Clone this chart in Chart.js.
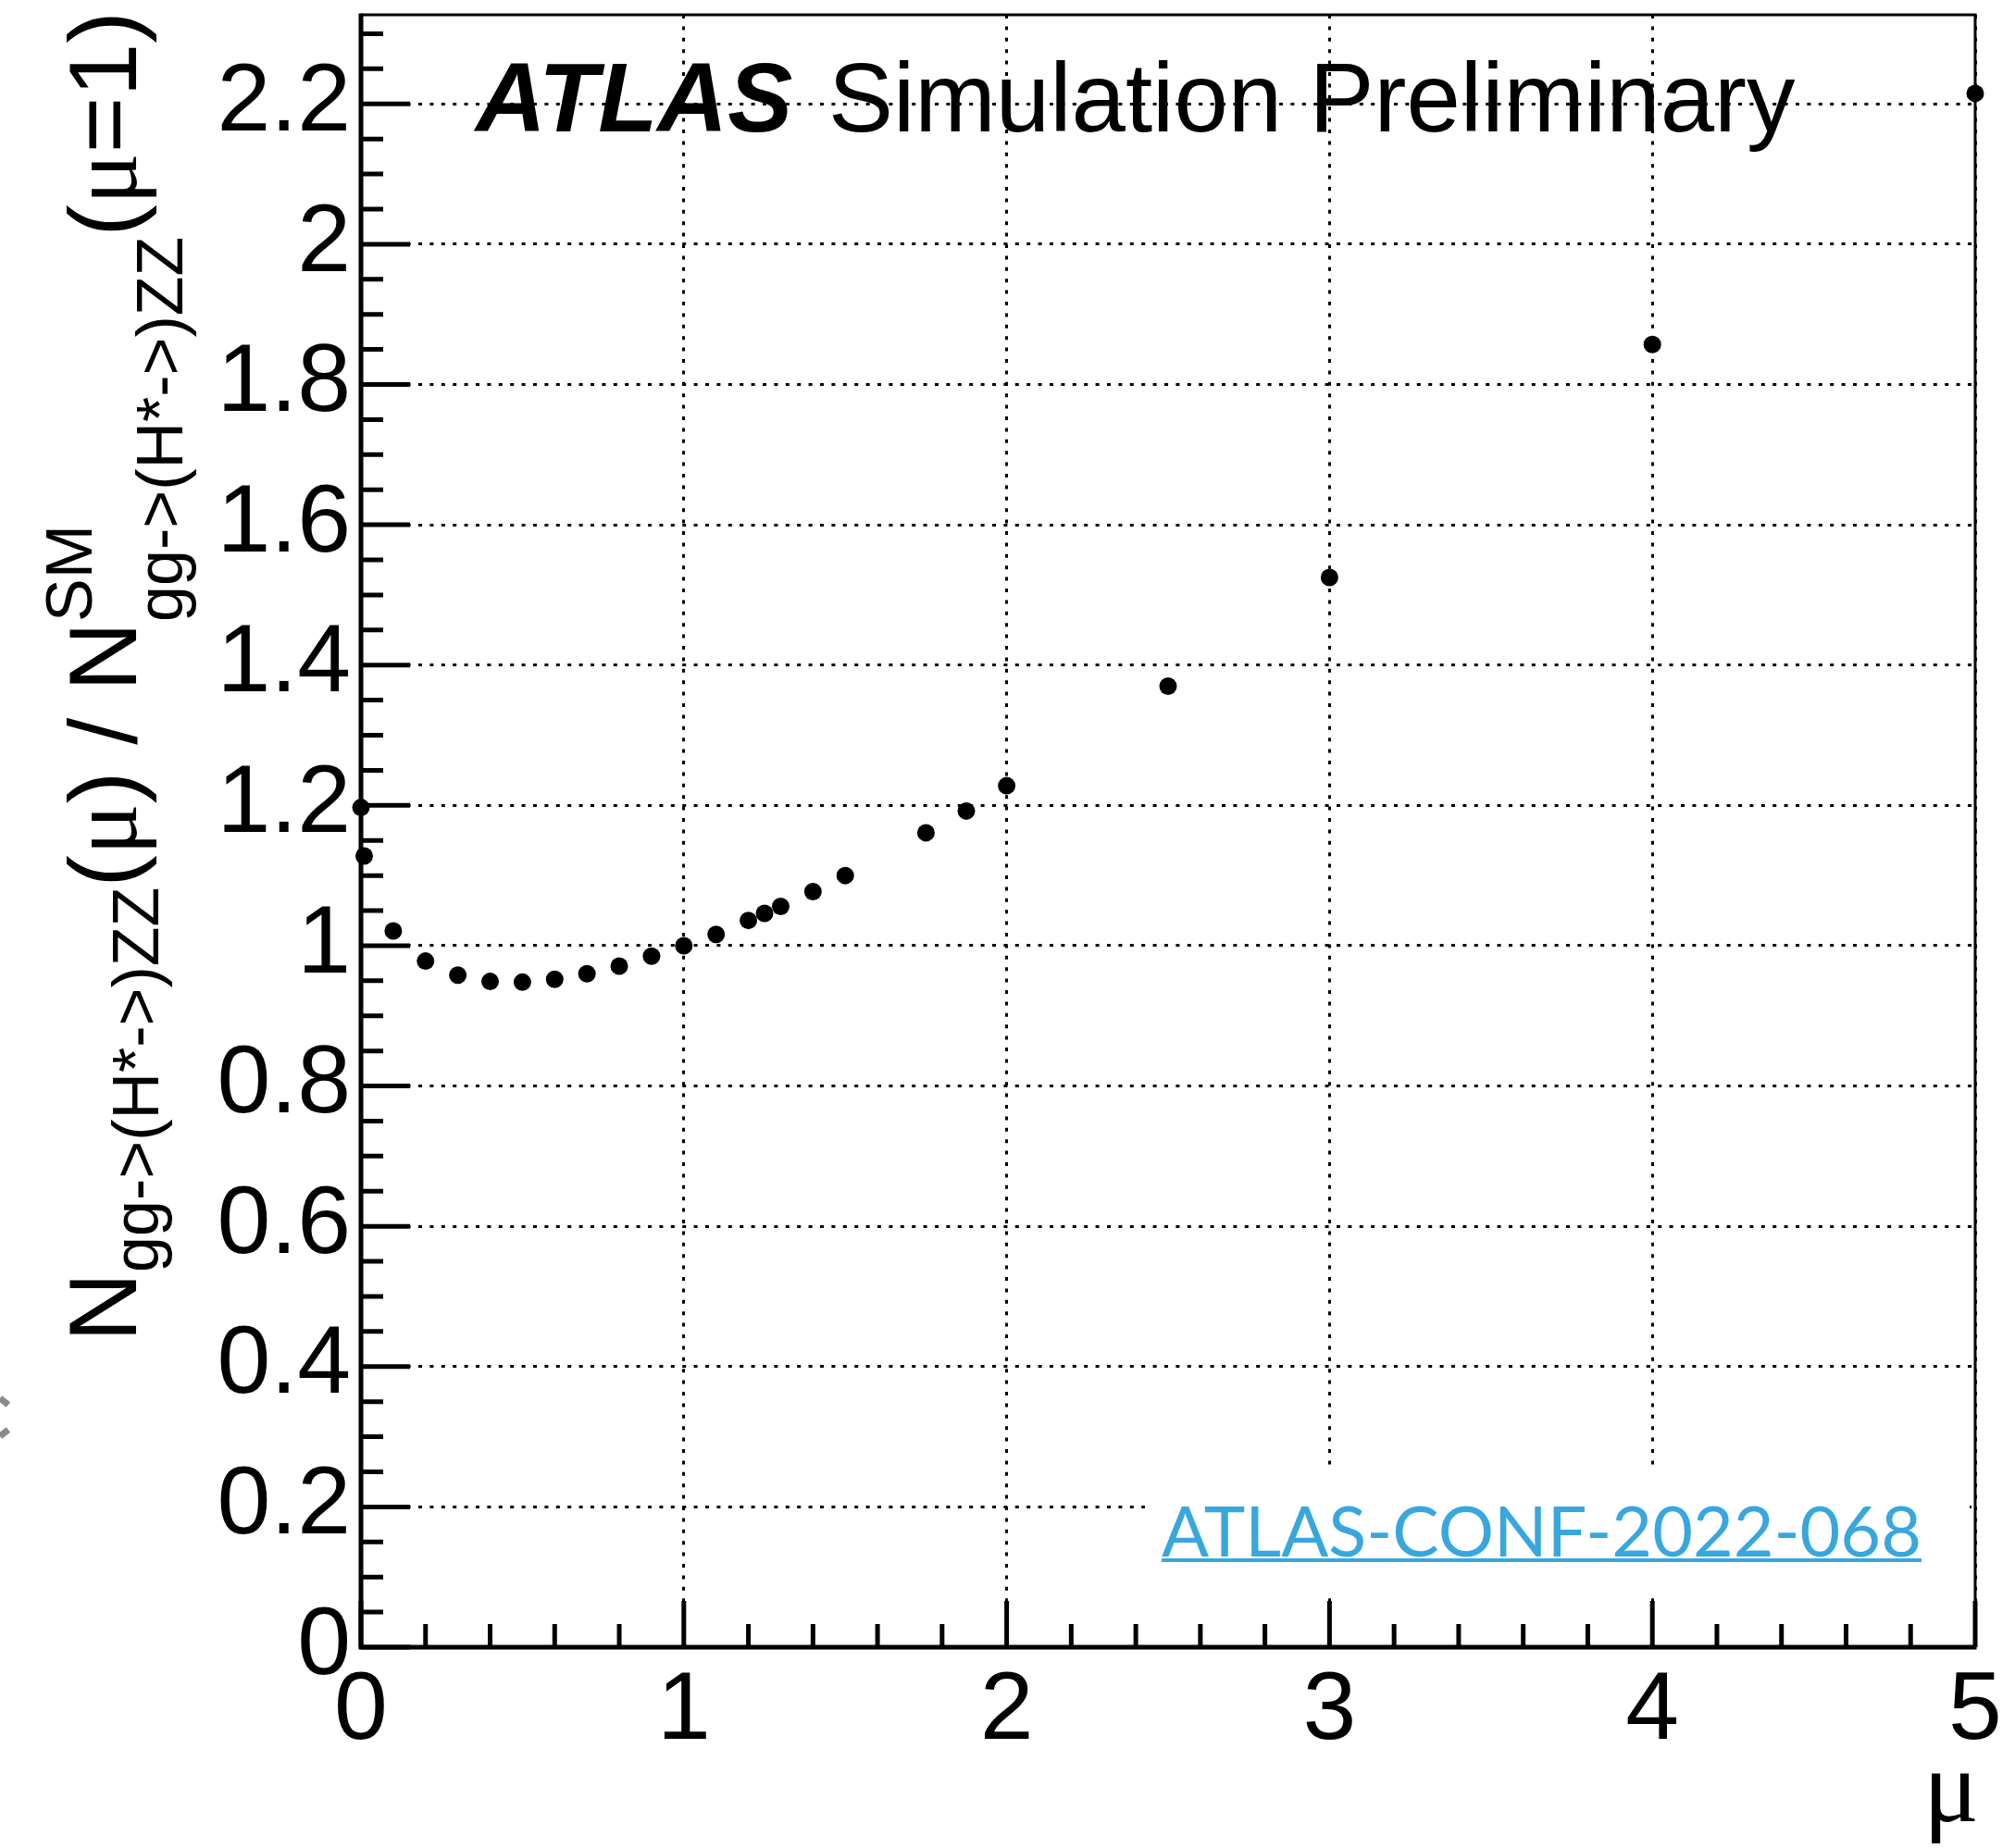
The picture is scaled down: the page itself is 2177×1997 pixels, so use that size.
<!DOCTYPE html>
<html>
<head>
<meta charset="utf-8">
<script src="https://cdn.jsdelivr.net/npm/chart.js@4.4.1/dist/chart.umd.min.js"></script>
<style>
  html, body { margin: 0; padding: 0; background: #fff; }
  #wrap { width: 2177px; height: 1997px; position: relative; }
</style>
</head>
<body>
<div id="wrap"><canvas id="ratio" width="2177" height="1997"></canvas></div>
<script>
// gg->(H*->)ZZ yield ratio vs signal strength
const muValues = [0, 0.01, 0.1, 0.2, 0.3, 0.4, 0.5, 0.6, 0.7, 0.8, 0.9, 1.0,
                  1.1, 1.2, 1.25, 1.3, 1.4, 1.5, 1.75, 1.875, 2.0, 2.5, 3, 4, 5];
const ratioValues = [1.197, 1.128, 1.021, 0.978, 0.958, 0.949, 0.948, 0.952, 0.960, 0.971, 0.985, 1.000,
                     1.016, 1.036, 1.046, 1.056, 1.077, 1.100, 1.161, 1.192, 1.228, 1.370, 1.525, 1.857, 2.215];

const xTicks = [0, 1, 2, 3, 4, 5];
const xTickLabels = ['0', '1', '2', '3', '4', '5'];
const yTicks = [0, 0.2, 0.4, 0.6, 0.8, 1.0, 1.2, 1.4, 1.6, 1.8, 2.0, 2.2];
const yTickLabels = ['0', '0.2', '0.4', '0.6', '0.8', '1', '1.2', '1.4', '1.6', '1.8', '2', '2.2'];
const xMinorStep = 0.2;
const yMinorStep = 0.05;

const SANS = '"Liberation Sans", Arial, sans-serif';
const SERIF = '"Liberation Serif", "Times New Roman", serif';

// text pieces along a shared baseline; "stack" puts a super- and subscript on top of each other
function drawRichText(ctx, pieces) {
    let x = 0;
    pieces.forEach(p => {
        if (p.stack) {
            let w = 0;
            p.stack.forEach(s => {
                ctx.font = s.font;
                ctx.fillText(s.text, x, s.dy || 0);
                w = Math.max(w, ctx.measureText(s.text).width);
            });
            x += w;
        } else {
            ctx.font = p.font;
            ctx.fillText(p.text, x, p.dy || 0);
            x += ctx.measureText(p.text).width;
        }
    });
}

const MAIN = '104px ' + SANS;
const MU = '104px ' + SERIF;
const SUB = '70px ' + SANS;

const yTitle = [
    { text: 'N', font: MAIN },
    { text: 'gg->(H*->)ZZ', font: SUB, dy: 24 },
    { text: '(', font: MAIN },
    { text: 'μ', font: MU },
    { text: ') / ', font: MAIN },
    { text: 'N', font: MAIN },
    { stack: [
        { text: 'SM', font: SUB, dy: -48 },
        { text: 'gg->(H*->)ZZ', font: SUB, dy: 50 }
    ] },
    { text: '(', font: MAIN },
    { text: 'μ', font: MU },
    { text: '=1)', font: MAIN }
];

// frame, inward ticks and the overlaid labels
const framePlugin = {
    id: 'frame',
    beforeDatasetsDraw(chart) {
        const { ctx, chartArea: a } = chart;
        // blank band behind the conference note
        ctx.save();
        ctx.fillStyle = '#fff';
        ctx.fillRect(a.left + 847, a.top + 1571, 891, 139);
        ctx.restore();
    },
    afterDatasetsDraw(chart) {
        const { ctx, chartArea: a, scales: { x, y } } = chart;
        ctx.save();
        ctx.strokeStyle = '#000';
        ctx.lineCap = 'butt';

        // top and right frame
        ctx.lineWidth = 3;
        ctx.beginPath();
        ctx.moveTo(a.left, a.top);
        ctx.lineTo(a.right, a.top);
        ctx.lineTo(a.right, a.bottom);
        ctx.stroke();

        // ticks
        ctx.lineWidth = 5;
        ctx.beginPath();
        for (let v = 0; v <= x.max + 1e-9; v += xMinorStep) {
            const px = x.getPixelForValue(v);
            const major = xTicks.some(t => Math.abs(t - v) < 1e-6);
            ctx.moveTo(px, a.bottom);
            ctx.lineTo(px, a.bottom - (major ? 50 : 25));
        }
        for (let v = 0; v <= y.max + 1e-9; v += yMinorStep) {
            const py = y.getPixelForValue(v);
            const major = yTicks.some(t => Math.abs(t - v) < 1e-6);
            ctx.moveTo(a.left, py);
            ctx.lineTo(a.left + (major ? 53 : 24), py);
        }
        ctx.stroke();

        // left and bottom axes
        ctx.lineWidth = 5;
        ctx.beginPath();
        ctx.moveTo(a.left, a.top - 1.5);
        ctx.lineTo(a.left, a.bottom);
        ctx.lineTo(a.right + 1.5, a.bottom);
        ctx.stroke();

        // header
        ctx.fillStyle = '#000';
        ctx.textBaseline = 'alphabetic';
        ctx.textAlign = 'left';
        ctx.font = 'italic bold 105px ' + SANS;
        ctx.fillText('ATLAS', a.left + 124, a.top + 126);
        ctx.font = '105px ' + SANS;
        ctx.fillText('Simulation Preliminary', a.left + 505, a.top + 126);

        // conference note, underlined
        ctx.fillStyle = '#38A7DD';
        const noteText = 'ATLAS-CONF-2022-068';
        ctx.font = '74px Lato, sans-serif';
        const size = 74 * 821 / ctx.measureText(noteText).width;
        ctx.font = size.toFixed(1) + 'px Lato, sans-serif';
        ctx.fillText(noteText, a.left + 865, a.top + 1666);
        ctx.fillRect(a.left + 865, a.top + 1668, 821, 4);

        // x title
        ctx.fillStyle = '#000';
        ctx.textAlign = 'right';
        ctx.font = '112px ' + SERIF;
        ctx.fillText('μ', a.right + 4, 1968);

        // y title
        ctx.textAlign = 'left';
        ctx.translate(147, 1450);
        ctx.rotate(-Math.PI / 2);
        drawRichText(ctx, yTitle);
        ctx.restore();

        // small grey mark at the left border
        ctx.save();
        ctx.strokeStyle = '#8a8a8a';
        ctx.lineWidth = 7;
        ctx.beginPath();
        ctx.moveTo(0, 1511);
        ctx.lineTo(9, 1518);
        ctx.moveTo(0, 1552);
        ctx.lineTo(9, 1545);
        ctx.stroke();
        ctx.restore();
    }
};

const points = muValues.map((m, i) => ({ x: m, y: ratioValues[i] }));

new Chart(document.getElementById('ratio'), {
    type: 'scatter',
    data: {
        datasets: [{
            data: points,
            backgroundColor: '#000',
            borderWidth: 0,
            pointRadius: 9.5,
            pointHoverRadius: 9.5,
            clip: false
        }]
    },
    options: {
        responsive: false,
        animation: false,
        events: [],
        layout: { padding: { top: 16, right: 43, left: 0, bottom: 0 } },
        plugins: {
            legend: { display: false },
            tooltip: { enabled: false }
        },
        scales: {
            x: {
                type: 'linear',
                min: 0,
                max: 5,
                afterBuildTicks: s => { s.ticks = xTicks.map(v => ({ value: v })); },
                afterFit: s => { s.height = 217; s.paddingLeft = 0; s.paddingRight = 0; },
                grid: { color: '#000', lineWidth: 3, drawTicks: false },
                border: { display: false, dash: [4, 8.4] },
                ticks: {
                    color: '#000',
                    font: { family: SANS, size: 104 },
                    padding: 8,
                    maxRotation: 0,
                    autoSkip: false,
                    callback: (v, i) => xTickLabels[i]
                }
            },
            y: {
                type: 'linear',
                min: 0,
                max: 2.327,
                afterBuildTicks: s => { s.ticks = yTicks.map(v => ({ value: v })); },
                afterFit: s => { s.width = 390; s.paddingTop = 0; s.paddingBottom = 0; },
                grid: { color: '#000', lineWidth: 3, drawTicks: false },
                border: { display: false, dash: [4, 8.4] },
                ticks: {
                    color: '#000',
                    font: { family: SANS, size: 104 },
                    padding: 11,
                    autoSkip: false,
                    callback: (v, i) => yTickLabels[i]
                }
            }
        }
    },
    plugins: [framePlugin]
});
</script>
</body>
</html>
